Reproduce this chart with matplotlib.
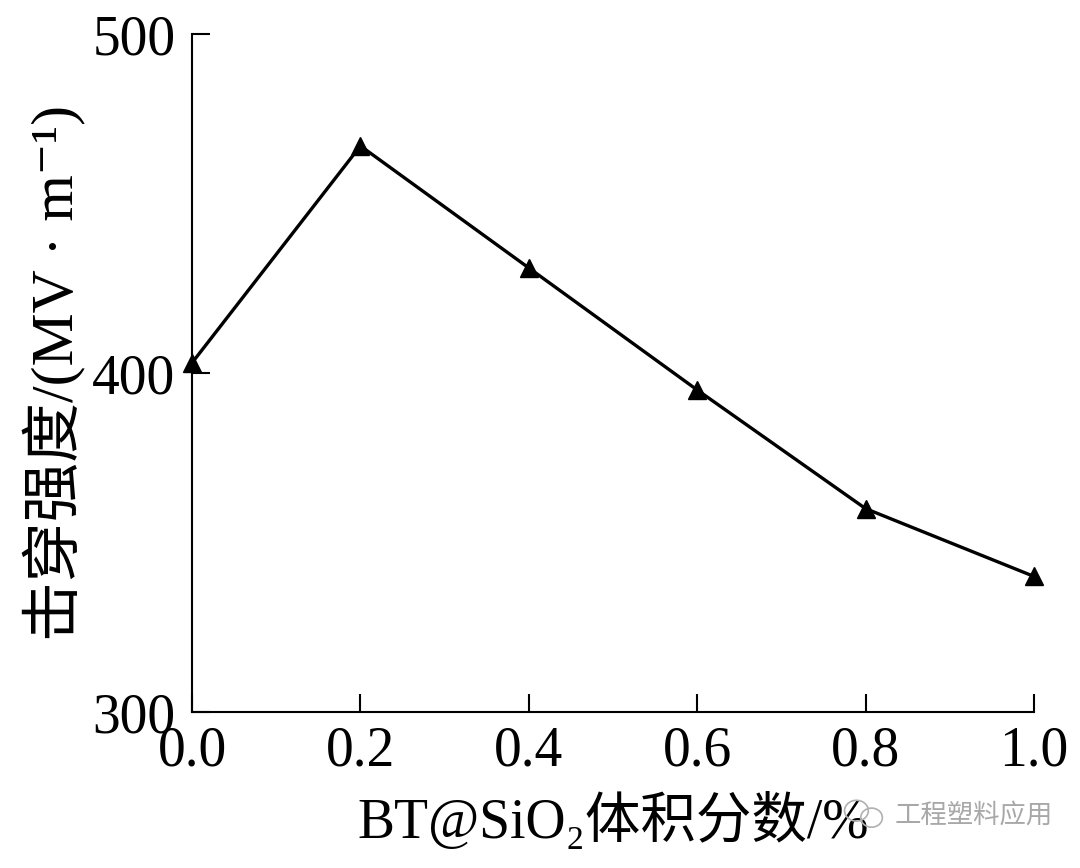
import matplotlib
matplotlib.use("Agg")
import matplotlib.pyplot as plt
from matplotlib.patches import Ellipse

plt.rcParams['font.family'] = ['Liberation Serif', 'Noto Sans CJK SC', 'DejaVu Serif']

# volume fraction of BT@SiO2 (%) and breakdown strength (MV/m)
fraction = [0.0, 0.2, 0.4, 0.6, 0.8, 1.0]
strength = [403, 467, 431, 395, 360, 340]

x_ticks = [0.0, 0.2, 0.4, 0.6, 0.8, 1.0]
x_ticklabels = ['0.0', '0.2', '0.4', '0.6', '0.8', '1.0']
y_ticks = [300, 400, 500]

fig = plt.figure(figsize=(10.8, 8.68), dpi=100)
ax = fig.add_axes([0.1778, 0.1797, 0.7796, 0.7811])

ax.plot(fraction, strength, color='black', lw=2.4, marker='^', ms=13,
        clip_on=False, zorder=3)

ax.set_xlim(0, 1.0)
ax.set_ylim(300, 500)
ax.set_xticks(x_ticks)
ax.set_xticklabels(x_ticklabels)
ax.set_yticks(y_ticks)

for s in ['top', 'right']:
    ax.spines[s].set_visible(False)
for s in ['left', 'bottom']:
    ax.spines[s].set_linewidth(1.5)

ax.tick_params(direction='in', length=13, width=1.5, labelsize=40)
ax.tick_params(axis='x', pad=10)
ax.tick_params(axis='y', pad=12)

ax.set_xlabel('BT@SiO\u2082体积分数/%', fontsize=40, labelpad=10)
ax.set_ylabel('击穿强度/(MV · m\u207b\u00b9)', fontsize=43, labelpad=4)

# watermark
fig.text(0.828, 0.052, '工程塑料应用', fontsize=19, color='#a8a8a8',
         family=['Noto Sans CJK SC', 'DejaVu Sans'])
fig.patches.append(Ellipse((0.793, 0.066), 0.022, 0.024, transform=fig.transFigure,
                           fill=False, ec='#b0b0b0', lw=1.2))
fig.patches.append(Ellipse((0.807, 0.058), 0.020, 0.022, transform=fig.transFigure,
                           fill=False, ec='#b0b0b0', lw=1.2))

fig.savefig('out.png', dpi=100)
